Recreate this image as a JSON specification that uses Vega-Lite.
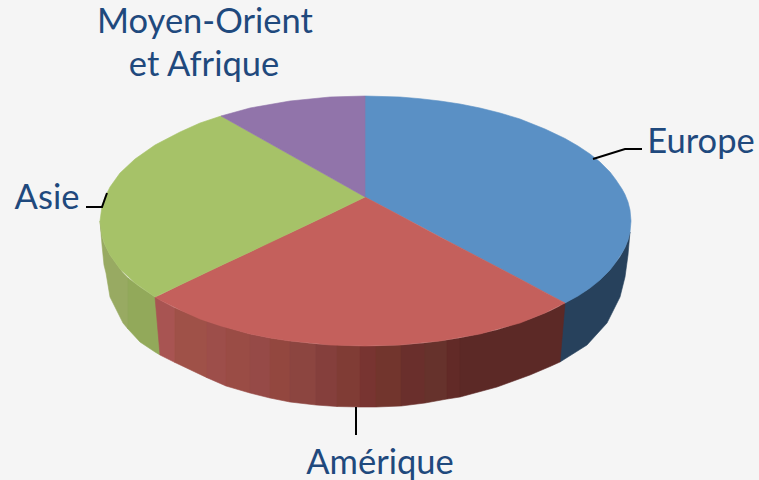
{"$schema":"https://vega.github.io/schema/vega-lite/v6.json","width":759,"height":480,"padding":0,"autosize":{"type":"none"},"background":"#f5f5f5","view":{"stroke":null},
"datasets":{"faces":[
{"p":"Europe côté","x":560,"y":306,"y2":362},{"p":"Europe côté","x":587,"y":290,"y2":345},{"p":"Europe côté","x":607,"y":273,"y2":323},{"p":"Europe côté","x":620,"y":257,"y2":297},{"p":"Europe côté","x":625,"y":247.5,"y2":277},{"p":"Europe côté","x":628,"y":240,"y2":255},{"p":"Europe côté","x":630,"y":232,"y2":232},
{"p":"Asie côté 1","x":100,"y":221,"y2":221},{"p":"Asie côté 1","x":102,"y":236,"y2":245},{"p":"Asie côté 1","x":104,"y":243,"y2":265},{"p":"Asie côté 1","x":106,"y":247,"y2":273},{"p":"Asie côté 1","x":110,"y":255,"y2":297},{"p":"Asie côté 1","x":123,"y":273,"y2":323},{"p":"Asie côté 1","x":128,"y":278,"y2":329},
{"p":"Asie côté 2","x":128,"y":278,"y2":329},{"p":"Asie côté 2","x":140,"y":287,"y2":342},{"p":"Asie côté 2","x":155,"y":297,"y2":352},{"p":"Asie côté 2","x":160,"y":300,"y2":355},
{"p":"Amérique côté 1","x":155,"y":297,"y2":297},{"p":"Amérique côté 1","x":157,"y":298.4,"y2":320},{"p":"Amérique côté 1","x":160,"y":300,"y2":355},{"p":"Amérique côté 1","x":175,"y":308,"y2":362.5},
{"p":"Amérique côté 2","x":175,"y":308,"y2":362.5},{"p":"Amérique côté 2","x":207,"y":321,"y2":377.7},
{"p":"Amérique côté 3","x":207,"y":321,"y2":377.7},{"p":"Amérique côté 3","x":226,"y":327,"y2":386},
{"p":"Amérique côté 4","x":226,"y":327,"y2":386},{"p":"Amérique côté 4","x":250,"y":334,"y2":393},
{"p":"Amérique côté 5","x":250,"y":334,"y2":393},{"p":"Amérique côté 5","x":270,"y":338,"y2":398},
{"p":"Amérique côté 6","x":270,"y":338,"y2":398},{"p":"Amérique côté 6","x":290,"y":341,"y2":402},
{"p":"Amérique côté 7","x":290,"y":341,"y2":402},{"p":"Amérique côté 7","x":316,"y":344,"y2":405},
{"p":"Amérique côté 8","x":316,"y":344,"y2":405},{"p":"Amérique côté 8","x":337,"y":345,"y2":406.5},
{"p":"Amérique côté 9","x":337,"y":345,"y2":406.5},{"p":"Amérique côté 9","x":360,"y":346,"y2":407},
{"p":"Amérique côté 10","x":360,"y":346,"y2":407},{"p":"Amérique côté 10","x":376,"y":346,"y2":407},
{"p":"Amérique côté 11","x":376,"y":346,"y2":407},{"p":"Amérique côté 11","x":401,"y":345,"y2":406},
{"p":"Amérique côté 12","x":401,"y":345,"y2":406},{"p":"Amérique côté 12","x":425,"y":343,"y2":403},
{"p":"Amérique côté 13","x":425,"y":343,"y2":403},{"p":"Amérique côté 13","x":447,"y":340,"y2":399},
{"p":"Amérique côté 14","x":447,"y":340,"y2":399},{"p":"Amérique côté 14","x":460,"y":338,"y2":397},
{"p":"Amérique côté 15","x":460,"y":338,"y2":397},{"p":"Amérique côté 15","x":497,"y":330,"y2":387},{"p":"Amérique côté 15","x":530,"y":319,"y2":375},{"p":"Amérique côté 15","x":550,"y":311,"y2":366.5},{"p":"Amérique côté 15","x":560,"y":306,"y2":362},{"p":"Amérique côté 15","x":565,"y":303,"y2":303},
{"p":"Europe","x":365,"y":96,"y2":197},{"p":"Europe","x":400,"y":97,"y2":215.6},{"p":"Europe","x":420,"y":98.7,"y2":226},{"p":"Europe","x":440,"y":101,"y2":236.8},{"p":"Europe","x":460,"y":104,"y2":247.4},{"p":"Europe","x":480,"y":108,"y2":258},{"p":"Europe","x":500,"y":113,"y2":268.6},{"p":"Europe","x":520,"y":119,"y2":279},{"p":"Europe","x":545,"y":129,"y2":292.4},{"p":"Europe","x":565,"y":138.5,"y2":303},{"p":"Europe","x":578,"y":146,"y2":296},{"p":"Europe","x":590,"y":154,"y2":288},{"p":"Europe","x":600,"y":162,"y2":280},{"p":"Europe","x":610,"y":172,"y2":270},{"p":"Europe","x":616,"y":180,"y2":262},{"p":"Europe","x":622,"y":189,"y2":253},{"p":"Europe","x":625,"y":194.5,"y2":247.5},{"p":"Europe","x":628,"y":202,"y2":240},{"p":"Europe","x":630,"y":210,"y2":232},{"p":"Europe","x":631,"y":221,"y2":221},
{"p":"Amérique","x":155,"y":297,"y2":297},{"p":"Amérique","x":160,"y":295,"y2":300},{"p":"Amérique","x":180,"y":285,"y2":310},{"p":"Amérique","x":200,"y":275.5,"y2":319},{"p":"Amérique","x":221,"y":265.5,"y2":326},{"p":"Amérique","x":250,"y":252,"y2":334},{"p":"Amérique","x":270,"y":242,"y2":338},{"p":"Amérique","x":290,"y":233,"y2":341},{"p":"Amérique","x":330,"y":214,"y2":345},{"p":"Amérique","x":365,"y":197,"y2":346},{"p":"Amérique","x":400,"y":215.6,"y2":345},{"p":"Amérique","x":440,"y":237,"y2":341},{"p":"Amérique","x":480,"y":258,"y2":334},{"p":"Amérique","x":520,"y":279,"y2":323},{"p":"Amérique","x":545,"y":292.4,"y2":313},{"p":"Amérique","x":565,"y":303,"y2":303},
{"p":"Asie","x":100,"y":221,"y2":221},{"p":"Asie","x":102,"y":206,"y2":236},{"p":"Asie","x":105,"y":197,"y2":245},{"p":"Asie","x":110,"y":187,"y2":255},{"p":"Asie","x":120,"y":173,"y2":269},{"p":"Asie","x":135,"y":159,"y2":283},{"p":"Asie","x":155,"y":145,"y2":297},{"p":"Asie","x":180,"y":132,"y2":285},{"p":"Asie","x":200,"y":123,"y2":275.5},{"p":"Asie","x":221,"y":116,"y2":265.5},{"p":"Asie","x":250,"y":132.3,"y2":252},{"p":"Asie","x":290,"y":154.8,"y2":233},{"p":"Asie","x":330,"y":177.3,"y2":214},{"p":"Asie","x":365,"y":197,"y2":197},
{"p":"Moyen-Orient et Afrique","x":221,"y":116,"y2":116},{"p":"Moyen-Orient et Afrique","x":250,"y":108,"y2":132.3},{"p":"Moyen-Orient et Afrique","x":290,"y":101,"y2":154.8},{"p":"Moyen-Orient et Afrique","x":330,"y":97,"y2":177.3},{"p":"Moyen-Orient et Afrique","x":365,"y":96,"y2":197}
],
"leaders":[
{"l":"Europe","x":593,"y":159,"o":1},{"l":"Europe","x":625,"y":149,"o":2},{"l":"Europe","x":642,"y":149,"o":3},
{"l":"Asie","x":86,"y":207,"o":1},{"l":"Asie","x":102,"y":207,"o":2},{"l":"Asie","x":107,"y":193,"o":3},
{"l":"Amérique","x":356,"y":407,"o":1},{"l":"Amérique","x":356,"y":435,"o":2}
],
"labels":[
{"t":"Moyen-Orient","x":205,"y":33},{"t":"et Afrique","x":204,"y":76},{"t":"Asie","x":47,"y":209},{"t":"Europe","x":701,"y":153},{"t":"Amérique","x":380,"y":474}
]},
"layer":[
{"data":{"name":"faces"},"mark":{"type":"area","strokeWidth":0.6,"interpolate":"linear"},
"encoding":{"x":{"field":"x","type":"quantitative","scale":{"domain":[0,759]},"axis":null},"y":{"field":"y","type":"quantitative","scale":{"domain":[480,0]},"axis":null},"y2":{"field":"y2"},
"fill":{"field":"p","type":"nominal","legend":null,"scale":{"domain":["Europe","Amérique","Asie","Moyen-Orient et Afrique","Europe côté","Asie côté 1","Asie côté 2","Amérique côté 1","Amérique côté 2","Amérique côté 3","Amérique côté 4","Amérique côté 5","Amérique côté 6","Amérique côté 7","Amérique côté 8","Amérique côté 9","Amérique côté 10","Amérique côté 11","Amérique côté 12","Amérique côté 13","Amérique côté 14","Amérique côté 15"],"range":["#5a90c5","#c4605c","#a6c268","#9174aa","#27415c","#98aa62","#92a95a","#a85452","#9f5148","#9d4e4a","#9a4c45","#964a47","#93473f","#8c4540","#853f3c","#803c35","#783431","#72352d","#6a2f2c","#66322c","#622a27","#5c2926"]}},
"stroke":{"field":"p","type":"nominal","legend":null,"scale":{"domain":["Europe","Amérique","Asie","Moyen-Orient et Afrique","Europe côté","Asie côté 1","Asie côté 2","Amérique côté 1","Amérique côté 2","Amérique côté 3","Amérique côté 4","Amérique côté 5","Amérique côté 6","Amérique côté 7","Amérique côté 8","Amérique côté 9","Amérique côté 10","Amérique côté 11","Amérique côté 12","Amérique côté 13","Amérique côté 14","Amérique côté 15"],"range":["#5a90c5","#c4605c","#a6c268","#9174aa","#27415c","#98aa62","#92a95a","#a85452","#9f5148","#9d4e4a","#9a4c45","#964a47","#93473f","#8c4540","#853f3c","#803c35","#783431","#72352d","#6a2f2c","#66322c","#622a27","#5c2926"]}}}},
{"data":{"name":"leaders"},"mark":{"type":"line","color":"#000000","strokeWidth":2},
"encoding":{"x":{"field":"x","type":"quantitative","scale":{"domain":[0,759]},"axis":null},"y":{"field":"y","type":"quantitative","scale":{"domain":[480,0]},"axis":null},"detail":{"field":"l"},"order":{"field":"o"}}},
{"data":{"name":"labels"},"mark":{"type":"text","font":"Lato","fontSize":34.5,"color":"#1f497d","align":"center","baseline":"alphabetic"},
"encoding":{"x":{"field":"x","type":"quantitative","scale":{"domain":[0,759]},"axis":null},"y":{"field":"y","type":"quantitative","scale":{"domain":[480,0]},"axis":null},"text":{"field":"t"}}}
]}
